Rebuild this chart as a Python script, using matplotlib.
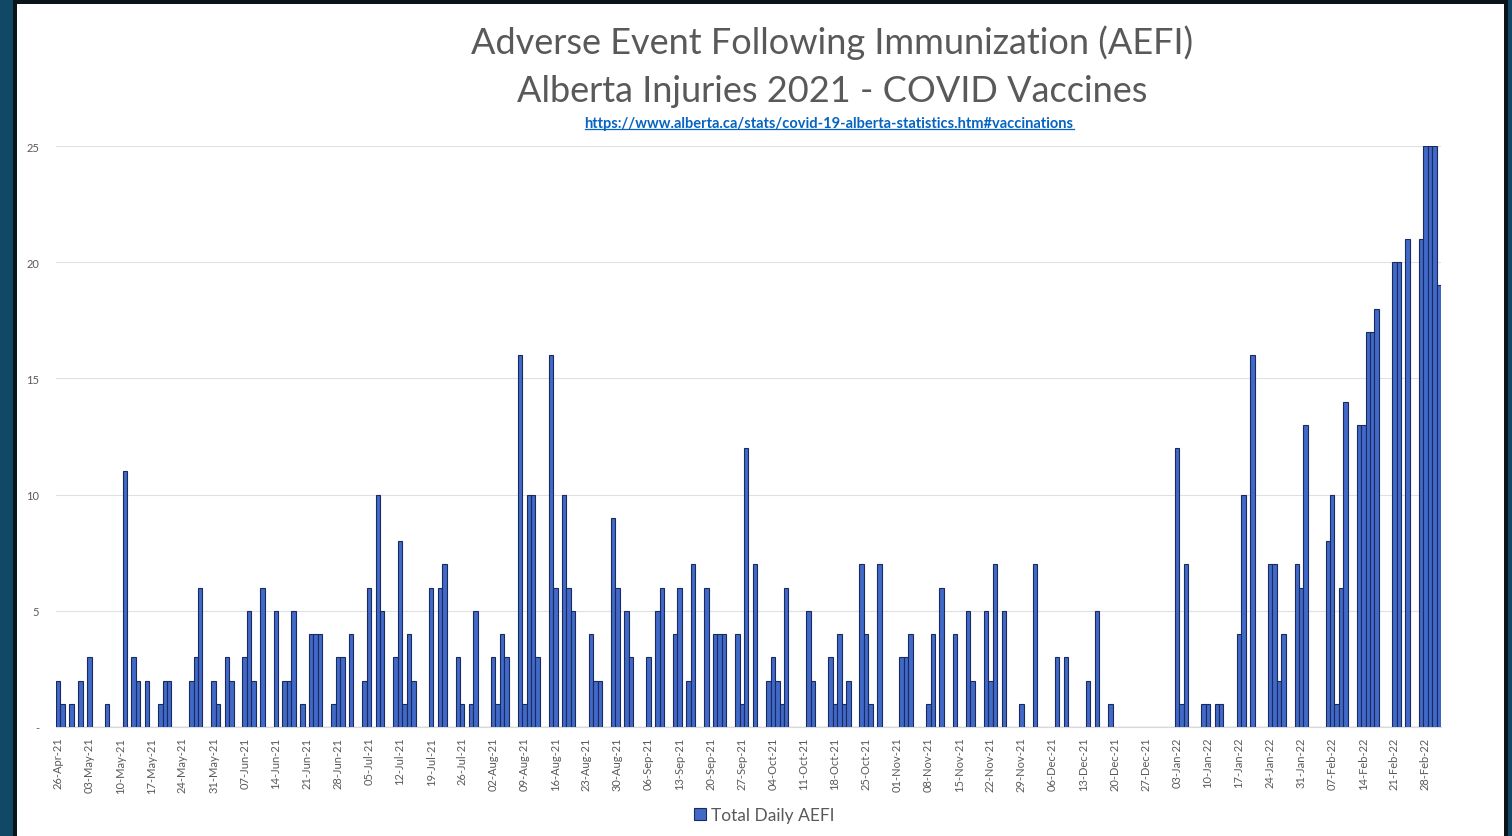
import matplotlib
matplotlib.use("Agg")
import matplotlib.pyplot as plt
import matplotlib.patches as mpatches
from matplotlib.lines import Line2D
import numpy as np
import pandas as pd

plt.rcParams['font.family'] = ['Lato', 'DejaVu Sans']

# ---------------- data ----------------
start_date = "2021-04-26"
daily_aefi = [
    2, 1, 0, 1, 0, 2, 0, 3, 0, 0, 0, 1, 0, 0, 0, 11, 0, 3, 2, 0,          # d0-19
    2, 0, 0, 1, 2, 2, 0, 0, 0, 0, 2, 3, 6, 0, 0, 2, 1, 0, 3, 2,           # d20-39
    0, 0, 3, 5, 2, 0, 6, 0, 0, 5, 0, 2, 2, 5, 0, 1, 0, 4, 4, 4,           # d40-59
    0, 0, 1, 3, 3, 0, 4, 0, 0, 2, 6, 0, 10, 5, 0, 0, 3, 8, 1, 4,          # d60-79
    2, 0, 0, 0, 6, 0, 6, 7, 0, 0, 3, 1, 0, 1, 5, 0, 0, 0, 3, 1,           # d80-99
    4, 3, 0, 0, 16, 1, 10, 10, 3, 0, 0, 16, 6, 0, 10, 6, 5, 0, 0, 0,      # d100-119
    4, 2, 2, 0, 0, 9, 6, 0, 5, 3, 0, 0, 0, 3, 0, 5, 6, 0, 0, 4,           # d120-139
    6, 0, 2, 7, 0, 0, 6, 0, 4, 4, 4, 0, 0, 4, 1, 12, 0, 7, 0, 0,          # d140-159
    2, 3, 2, 1, 6, 0, 0, 0, 0, 5, 2, 0, 0, 0, 3, 1, 4, 1, 2, 0,           # d160-179
    0, 7, 4, 1, 0, 7, 0, 0, 0, 0, 3, 3, 4, 0, 0, 0, 1, 4, 0, 6,           # d180-199
    0, 0, 4, 0, 0, 5, 2, 0, 0, 5, 2, 7, 0, 5, 0, 0, 0, 1, 0, 0,           # d200-219
    7, 0, 0, 0, 0, 3, 0, 3, 0, 0, 0, 0, 2, 0, 5, 0, 0, 1, 0, 0,           # d220-239
    0, 0, 0, 0, 0, 0, 0, 0, 0, 0, 0, 0, 12, 1, 7, 0, 0, 0, 1, 1,          # d240-259
    0, 1, 1, 0, 0, 0, 4, 10, 0, 16, 0, 0, 0, 7, 7, 2, 4, 0, 0, 7,         # d260-279
    6, 13, 0, 0, 0, 0, 8, 10, 1, 6, 14, 0, 0, 13, 13, 17, 17, 18, 0, 0,   # d280-299
    0, 20, 20, 0, 21, 0, 0, 21, 25, 25, 25, 19,                           # d300-311
]
series_name = "Total Daily AEFI"
y_ticks = [0, 5, 10, 15, 20, 25]
y_tick_labels = ["-", "5", "10", "15", "20", "25"]
title_line1 = "Adverse Event Following Immunization (AEFI)"
title_line2 = "Alberta Injuries 2021 - COVID Vaccines"
source_url = "https://www.alberta.ca/stats/covid-19-alberta-statistics.htm#vaccinations"

dates = pd.date_range(start=start_date, periods=len(daily_aefi), freq="D")
x = np.arange(len(daily_aefi))
tick_idx = x[::7]
tick_labels = [d.strftime("%d-%b-%y") for d in dates[::7]]

# ---------------- figure ----------------
W, H = 1512, 837
fig = plt.figure(figsize=(W / 100, H / 100), dpi=100)
fig.patch.set_facecolor("#114866")

def fx(px):
    return px / W

def fy(py):
    return 1 - py / H

# frame: black border and white slide area
fig.patches.append(mpatches.Rectangle((fx(13), 0), fx(1508) - fx(13), fy(1) - 0,
                                      transform=fig.transFigure, facecolor="#0b1418",
                                      edgecolor="none", zorder=-3))
fig.patches.append(mpatches.Rectangle((fx(17), 0), fx(1504) - fx(17), fy(5) - 0,
                                      transform=fig.transFigure, facecolor="white",
                                      edgecolor="none", zorder=-2))

ax_left, ax_right = 56, 1441
ax_top, ax_bottom = 147, 728
ax = fig.add_axes([fx(ax_left), fy(ax_bottom), fx(ax_right) - fx(ax_left),
                   (ax_bottom - ax_top) / H])
ax.set_facecolor("none")

ax.bar(x, daily_aefi, width=1.0, color="#4169c8", edgecolor="#1b2a5e",
       linewidth=0.8, zorder=3)

ax.set_xlim(-0.5, len(daily_aefi) - 0.5)
ax.set_ylim(0, 25)
ax.set_yticks(y_ticks)
ax.set_yticklabels(y_tick_labels, fontsize=8, color="#595959")
ax.set_xticks(tick_idx)
ax.set_xticklabels(tick_labels, rotation=90, fontsize=8, color="#595959")
ax.tick_params(axis="both", length=0)
ax.tick_params(axis="y", pad=12)
ax.tick_params(axis="x", pad=7)
ax.grid(axis="y", color="#e0e0e0", linewidth=0.8, zorder=0)
ax.set_axisbelow(True)
for s in ["top", "right", "left"]:
    ax.spines[s].set_visible(False)
ax.spines["bottom"].set_color("#d9d9d9")
ax.spines["bottom"].set_linewidth(0.8)

# titles
fig.text(fx(832), fy(43), title_line1, ha="center", va="center", fontsize=26,
         color="#595959")
fig.text(fx(832), fy(92), title_line2, ha="center", va="center", fontsize=26,
         color="#595959")
url_txt = fig.text(fx(829), fy(124), source_url, ha="center", va="center",
                   fontsize=10.5, fontweight="bold", color="#0563C1")

# legend
handle = mpatches.Patch(facecolor="#4169c8", edgecolor="#1b2a5e", linewidth=0.8,
                        label=series_name)
fig.legend(handles=[handle], loc="center", bbox_to_anchor=(fx(764), fy(816)),
           frameon=False, fontsize=12.5, handlelength=0.7, handleheight=0.7,
           handletextpad=0.3, labelcolor="#595959")

# underline for the URL
fig.canvas.draw()
bb = url_txt.get_window_extent(renderer=fig.canvas.get_renderer())
inv = fig.transFigure.inverted()
(x0, y0), (x1, _) = inv.transform([(bb.x0, bb.y0), (bb.x1, bb.y1)])
fig.lines.append(Line2D([x0, x1], [y0 + 0.001, y0 + 0.001], transform=fig.transFigure,
                        color="#0563C1", linewidth=0.9))

fig.savefig("out.png", dpi=100, facecolor=fig.get_facecolor())
